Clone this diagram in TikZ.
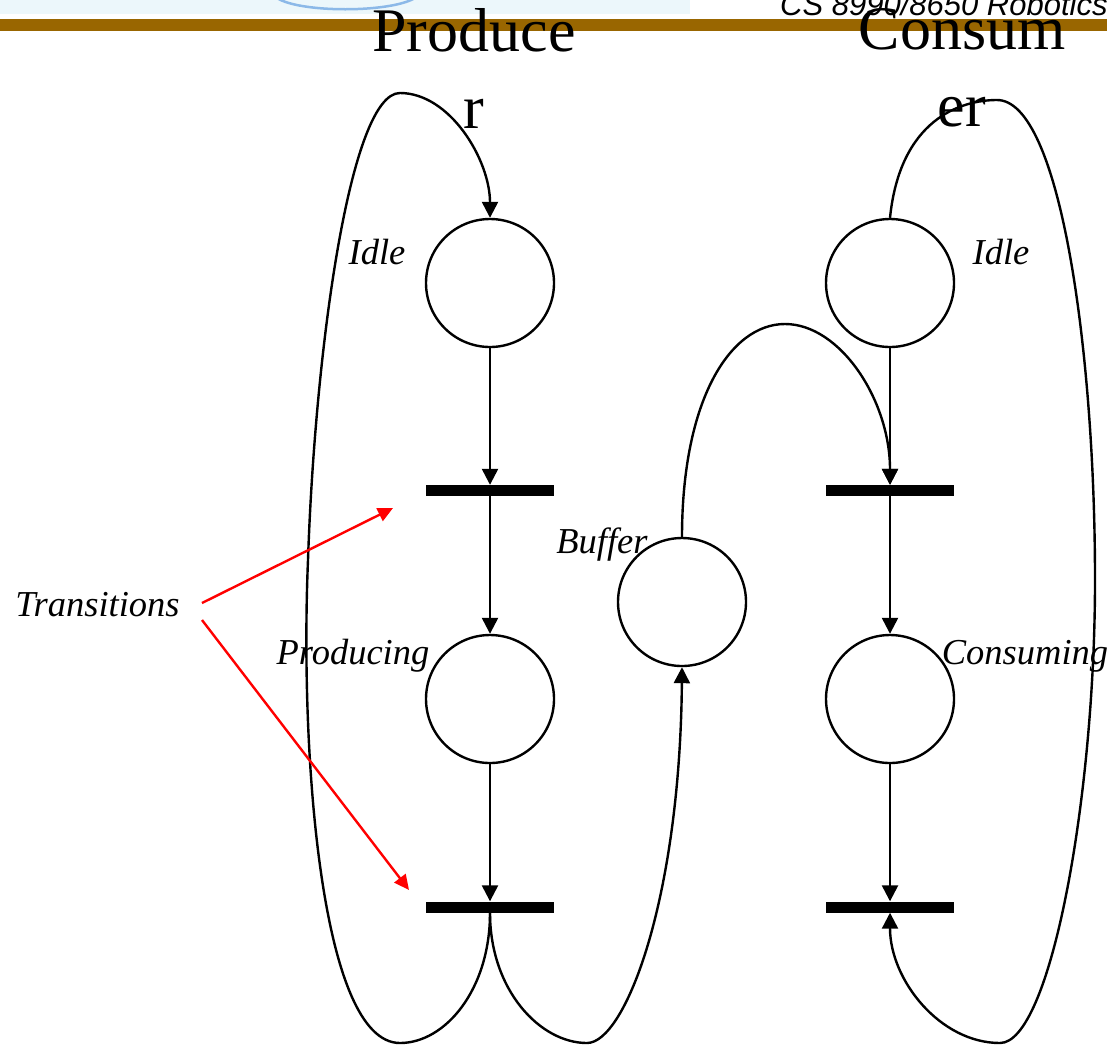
\documentclass[tikz,border=0pt]{standalone}
\usepackage{fontspec}
\setmainfont{Liberation Serif}
\newfontfamily\hdrfont{Liberation Sans}
\usetikzlibrary{arrows.meta}
\definecolor{hdrbg}{RGB}{236,247,251}
\definecolor{hdrarc}{RGB}{140,185,232}
\definecolor{brownbar}{RGB}{153,102,0}
\begin{document}
\begin{tikzpicture}[x=1pt,y=-1pt,
  place/.style={circle,draw,line width=2.4pt,minimum size=128pt,inner sep=0pt},
  tbar/.style={rectangle,fill=black,minimum width=128pt,minimum height=11pt,inner sep=0pt},
  flow/.style={line width=2.4pt,-{Triangle[length=16pt,width=16pt]}},
  pointer/.style={line width=2.4pt,red,-{Triangle[length=15pt,width=14pt]}},
  lbl/.style={font=\fontsize{36.5}{40}\selectfont\itshape,anchor=base,inner sep=0pt},
  title/.style={font=\fontsize{62}{77}\selectfont,align=center,anchor=north,inner sep=0pt}]
\useasboundingbox (0,0) rectangle (1107,1045);
% header
\fill[hdrbg] (0,0) rectangle (690,14);
\draw[hdrarc,line width=2.5pt] (277,-2) .. controls (300,13) and (390,13) .. (415,-2);
\fill[brownbar] (0,18.7) rectangle (1107,30.7);
\node[anchor=base west,inner sep=0pt,font=\hdrfont\itshape\fontsize{31}{31}\selectfont] (hdr) at (780,15) {CS 8990/8650 Robotics};
% titles
\node[title] (ptitle) at (474,8) {Produce\\r};
\node[title] (ctitle) at (962,8) {Consum\\er};
% places and transitions
\node[place] (pidle) at (490,283) {};
\node[tbar] (pt1) at (490,490.5) {};
\node[place] (prod) at (490,699) {};
\node[tbar] (pt2) at (490,907) {};
\node[place] (buf) at (682,602) {};
\node[place] (cidle) at (890,283) {};
\node[tbar] (ct1) at (890,490.5) {};
\node[place] (cons) at (890,699) {};
\node[tbar] (ct2) at (890,907) {};
% labels
\node[lbl] (lpidle) at (377,264) {Idle};
\node[lbl] (lcidle) at (1001,264) {Idle};
\node[lbl] (lprod) at (353,664) {Producing};
\node[lbl] (lcons) at (1025,664) {Consuming};
\node[lbl] (lbuf) at (602,553) {Buffer};
\node[lbl] (ltrans) at (97.5,616) {Transitions};
% straight arcs
\draw[flow] (pidle) -- (pt1);
\draw[flow] (pt1) -- (prod);
\draw[flow] (prod) -- (pt2);
\draw[flow] (cidle) -- (ct1);
\draw[flow] (ct1) -- (cons);
\draw[flow] (cons) -- (ct2);
% curved arcs
\draw[flow] (pt2.south) .. controls (490,990) and (445,1043) .. (400,1043)
  .. controls (320,1043) and (300,750) .. (308,560)
  .. controls (315,350) and (350,93) .. (400,93)
  .. controls (450,93) and (490,160) .. (pidle.north);
\draw[flow] (pt2.south) .. controls (490,990) and (540,1043) .. (587,1043)
  .. controls (625,1043) and (680,900) .. (buf.south);
\draw[flow] (buf.north) .. controls (682,400) and (730,324) .. (785,324)
  .. controls (840,324) and (890,400) .. (ct1.north);
\draw[flow] (cidle.north) .. controls (900,120) and (960,100) .. (997,100)
  .. controls (1060,100) and (1095,350) .. (1095,580)
  .. controls (1095,800) and (1050,1043) .. (1000,1043)
  .. controls (940,1043) and (890,980) .. (ct2.south);
% pointers
\coordinate (ts1) at (202,603);
\coordinate (ts2) at (202,620);
\coordinate (tt1) at (393,508);
\coordinate (tt2) at (409,890);
\draw[pointer] (ts1) -- (tt1);
\draw[pointer] (ts2) -- (tt2);
\end{tikzpicture}
\end{document}
